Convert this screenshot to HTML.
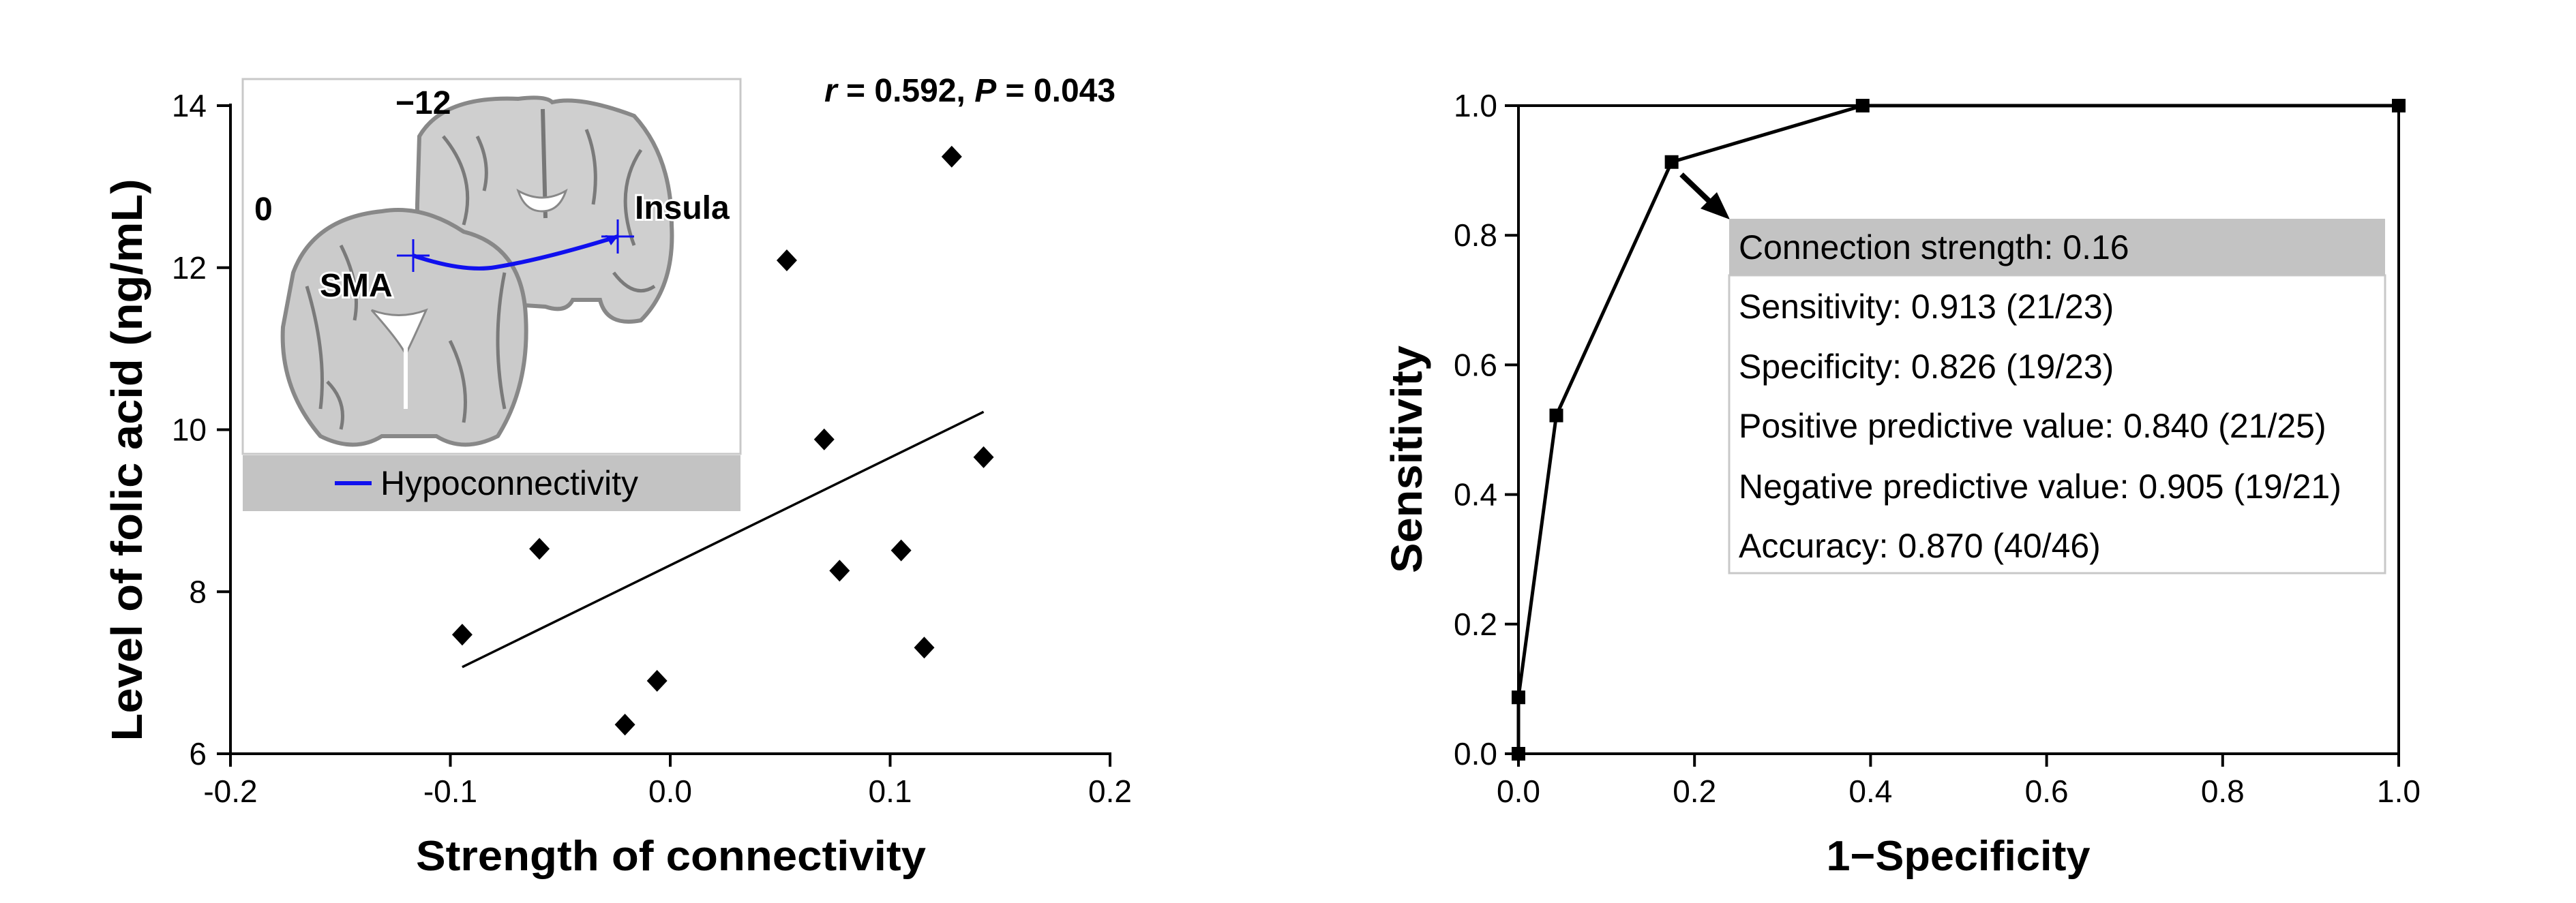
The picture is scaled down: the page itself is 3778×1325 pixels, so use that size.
<!DOCTYPE html>
<html><head><meta charset="utf-8"><style>
html,body{margin:0;padding:0;background:#fff;}
svg{display:block;}
text{font-family:"Liberation Sans",Arial,sans-serif;}
</style></head><body>
<svg id="fig" width="3778" height="1325" viewBox="0 0 3778 1325" xmlns="http://www.w3.org/2000/svg">
<rect x="0" y="0" width="3778" height="1325" fill="#fff"/>
<g id="left">
  <g>
    <rect x="356" y="116" width="730" height="550" fill="#fff" stroke="#c8c8c8" stroke-width="3"/>
    <path d="M615,200 Q650,140 760,145 Q800,140 810,150 Q850,140 930,170 Q985,230 985,330 Q990,420 940,470 Q890,480 880,440 L840,440 Q830,460 800,450 L650,440 Q610,400 612,300 Z" fill="#cfcfcf" stroke="#888" stroke-width="6"/>
    <path d="M796,160 L800,320" stroke="#777" stroke-width="6" fill="none"/>
    <path d="M760,280 Q795,300 830,280 Q820,310 795,310 Q770,310 760,280Z" fill="#fff" stroke="#888" stroke-width="3"/>
    <path d="M430,400 Q460,320 560,310 Q620,300 680,340 Q760,360 770,450 Q780,560 730,640 Q680,665 640,640 L560,640 Q520,665 470,640 Q410,570 415,480 Z" fill="#cbcbcb" stroke="#888" stroke-width="6"/>
    <path d="M545,455 Q585,470 625,455 Q605,500 595,520 Q585,500 545,455Z" fill="#fff" stroke="#888" stroke-width="3"/>
    <path d="M595,500 L595,600" stroke="#fff" stroke-width="6"/>
    <path d="M450,420 Q480,520 470,600 M740,400 Q720,500 740,600 M650,200 Q700,260 680,330 M940,220 Q900,280 930,360 M900,400 Q930,440 960,420 M500,360 Q530,420 520,470 M700,200 Q720,240 710,280 M860,190 Q880,240 870,300 M660,500 Q690,560 680,620 M480,560 Q510,590 500,630" stroke="#7a7a7a" stroke-width="5" fill="none"/>
    <path id="conn" d="M606,375 Q680,400 727,392 Q800,380 906,347" stroke="#1010ee" stroke-width="6" fill="none"/>
    <path d="M906,347 L888,345 L896,360 Z" fill="#1010ee"/>
    <g stroke="#1010ee" stroke-width="3"><line x1="582" y1="375" x2="630" y2="375"/><line x1="606" y1="351" x2="606" y2="399"/></g>
    <g stroke="#1010ee" stroke-width="3"><line x1="882" y1="347" x2="930" y2="347"/><line x1="906" y1="322" x2="906" y2="372"/></g>
    <text x="373" y="323" font-size="48" font-weight="bold">0</text>
    <text x="580" y="167" font-size="48" font-weight="bold">−12</text>
    <text x="931" y="321" font-size="48" font-weight="bold" stroke="#fff" stroke-width="6" paint-order="stroke">Insula</text>
    <text x="469" y="435" font-size="48" font-weight="bold" stroke="#fff" stroke-width="6" paint-order="stroke">SMA</text>
    <rect x="356" y="668" width="730" height="82" fill="#c3c3c3"/>
    <line x1="491" y1="709" x2="545" y2="709" stroke="#1010ee" stroke-width="6"/>
    <text x="558" y="726" font-size="50">Hypoconnectivity</text>
  </g>
  <g id="lax"></g>
  <g id="lmarks"></g>
  <text x="1209" y="149" font-size="48" font-weight="bold"><tspan font-style="italic">r</tspan> = 0.592, <tspan font-style="italic">P</tspan> = 0.043</text>
  <text x="984" y="1277" font-size="62" font-weight="bold" text-anchor="middle" textLength="748" lengthAdjust="spacingAndGlyphs">Strength of connectivity</text>
  <text transform="translate(208,675) rotate(-90)" font-size="64" font-weight="bold" text-anchor="middle" textLength="825" lengthAdjust="spacingAndGlyphs">Level of folic acid (ng/mL)</text>
</g>
<g id="right">
  <g id="rax"></g>
  <g id="rmarks"></g>
  <text x="2872" y="1277" font-size="62" font-weight="bold" text-anchor="middle" textLength="387" lengthAdjust="spacingAndGlyphs">1−Specificity</text>
  <text transform="translate(2085,674) rotate(-90)" font-size="64" font-weight="bold" text-anchor="middle" textLength="334" lengthAdjust="spacingAndGlyphs">Sensitivity</text>
  <g>
    <line x1="2466" y1="256" x2="2515" y2="303" stroke="#000" stroke-width="8"/>
    <path d="M2537,322 L2494,306 L2518,282 Z" fill="#000"/>
  </g>
  <g>
    <rect x="2536" y="404" width="962" height="437" fill="#fff" stroke="#c8c8c8" stroke-width="3"/>
    <rect x="2536" y="321" width="962" height="83" fill="#c3c3c3"/>
    <text x="2550" y="380" font-size="50">Connection strength: 0.16</text>
    <text x="2550" y="467" font-size="50">Sensitivity: 0.913 (21/23)</text>
    <text x="2550" y="555" font-size="50">Specificity: 0.826 (19/23)</text>
    <text x="2550" y="642" font-size="50">Positive predictive value: 0.840 (21/25)</text>
    <text x="2550" y="731" font-size="50">Negative predictive value: 0.905 (19/21)</text>
    <text x="2550" y="818" font-size="50">Accuracy: 0.870 (40/46)</text>
  </g>
</g>
</svg>
<script>
const scatterX = [-0.0946, -0.0595, -0.0206, -0.006, 0.053, 0.070, 0.077, 0.105, 0.1155, 0.128, 0.1425];
const scatterY = [7.47, 8.53, 6.36, 6.90, 12.09, 9.88, 8.26, 8.51, 7.31, 13.37, 9.66];
const fitX = [-0.0946, 0.1425];
const fitY = [7.07, 10.22];
const lxTicks = [-0.2, -0.1, 0.0, 0.1, 0.2];
const lxLabels = ["-0.2", "-0.1", "0.0", "0.1", "0.2"];
const lyTicks = [6, 8, 10, 12, 14];
const lyLabels = ["6", "8", "10", "12", "14"];
const rocX = [0, 0, 0.043, 0.174, 0.391, 1.0];
const rocY = [0, 0.087, 0.522, 0.913, 1.0, 1.0];
const rTicks = [0, 0.2, 0.4, 0.6, 0.8, 1.0];
const rLabels = ["0.0", "0.2", "0.4", "0.6", "0.8", "1.0"];

const NS = "http://www.w3.org/2000/svg";
function mk(tag, attrs, parent){const e=document.createElementNS(NS,tag);for(const k in attrs)e.setAttribute(k,attrs[k]);parent.appendChild(e);return e;}
const lx = v => 338 + (v + 0.2) / 0.4 * 1290;
const ly = v => 1106 - (v - 6) / 8 * 951;
const rx = v => 2227 + v * 1291;
const ry = v => 1106 - v * 951;

const lax = document.getElementById('lax');
let e;
e = mk('line',{x1:338,y1:152,x2:338,y2:1108,stroke:'#000','stroke-width':4},lax);


e = mk('line',{x1:336,y1:1106,x2:1630,y2:1106,stroke:'#000','stroke-width':4},lax);


lxTicks.forEach((v,i)=>{
  mk('line',{x1:lx(v),y1:1106,x2:lx(v),y2:1125,stroke:'#000','stroke-width':4},lax);
  const t = mk('text',{x:lx(v),y:1177,'font-size':46,'text-anchor':'middle'},lax);
  t.textContent = lxLabels[i];
  
  
});
lyTicks.forEach((v,i)=>{
  mk('line',{x1:318,y1:ly(v),x2:338,y2:ly(v),stroke:'#000','stroke-width':4},lax);
  const t = mk('text',{x:303,y:ly(v)+16,'font-size':46,'text-anchor':'end'},lax);
  t.textContent = lyLabels[i];
  
  
});
const lm = document.getElementById('lmarks');
e = mk('line',{x1:lx(fitX[0]),y1:ly(fitY[0]),x2:lx(fitX[1]),y2:ly(fitY[1]),stroke:'#000','stroke-width':3.5},lm);


scatterX.forEach((v,i)=>{
  const cx=lx(v), cy=ly(scatterY[i]);
  const p = mk('path',{d:`M${cx},${cy-16} L${cx+15},${cy} L${cx},${cy+16} L${cx-15},${cy} Z`,fill:'#000'},lm);
  
  
});

const rax = document.getElementById('rax');
e = mk('rect',{x:2227,y:155,width:1291,height:951,fill:'none',stroke:'#000','stroke-width':4},rax);


rTicks.forEach((v,i)=>{
  mk('line',{x1:rx(v),y1:1106,x2:rx(v),y2:1125,stroke:'#000','stroke-width':4},rax);
  const t = mk('text',{x:rx(v),y:1177,'font-size':46,'text-anchor':'middle'},rax);
  t.textContent = rLabels[i];
  
  
  mk('line',{x1:2207,y1:ry(v),x2:2227,y2:ry(v),stroke:'#000','stroke-width':4},rax);
  const t2 = mk('text',{x:2196,y:ry(v)+16,'font-size':46,'text-anchor':'end'},rax);
  t2.textContent = rLabels[i];
  
  
});
const rm = document.getElementById('rmarks');
e = mk('polyline',{points:rocX.map((v,i)=>rx(v)+','+ry(rocY[i])).join(' '),fill:'none',stroke:'#000','stroke-width':5},rm);


rocX.forEach((v,i)=>{
  const s = mk('rect',{x:rx(v)-10,y:ry(rocY[i])-10,width:20,height:20,fill:'#000'},rm);
  
  
});
</script>
</body></html>
